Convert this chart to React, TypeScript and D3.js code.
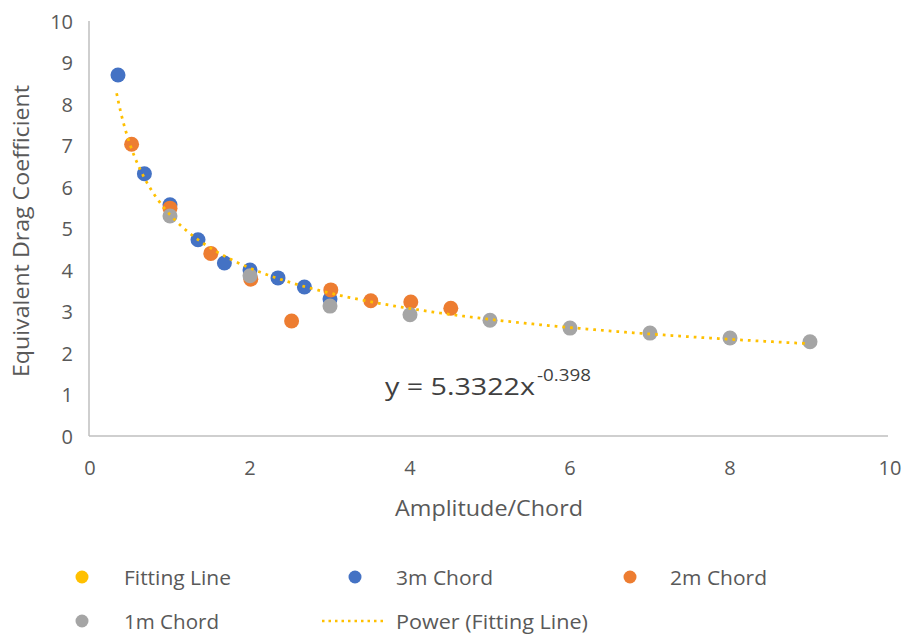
import React from "react";
import * as d3 from "d3";

const xTicks = [0, 2, 4, 6, 8, 10];
const yTicks = [0, 1, 2, 3, 4, 5, 6, 7, 8, 9, 10];

const chord3X = [0.35, 0.68, 1.0, 1.35, 1.68, 2.0, 2.35, 2.68, 3.0];
const chord3Y = [8.7, 6.32, 5.57, 4.73, 4.17, 4.0, 3.81, 3.59, 3.3];

const chord2X = [0.52, 1.0, 1.51, 2.01, 2.52, 3.01, 3.51, 4.01, 4.51];
const chord2Y = [7.03, 5.49, 4.4, 3.78, 2.77, 3.52, 3.26, 3.23, 3.08];

const chord1X = [1, 2, 3, 4, 5, 6, 7, 8, 9];
const chord1Y = [5.3, 3.86, 3.13, 2.92, 2.79, 2.6, 2.48, 2.36, 2.27];

const fitA = 5.3322;
const fitB = -0.398;
const fitRange = [0.333, 9];

const COLORS = {
  fit: "#FFC000",
  c3: "#4472C4",
  c2: "#ED7D31",
  c1: "#A5A5A5",
  text: "#595959",
  axis: "#BFBFBF",
};

const FONT = "'Open Sans', 'Noto Sans', sans-serif";

export default function App() {
  const W = 906;
  const H = 635;
  const left = 90;
  const right = 890;
  const top = 21;
  const bottom = 436;

  const x = d3.scaleLinear().domain([0, 10]).range([left, right]);
  const y = d3.scaleLinear().domain([0, 10]).range([bottom, top]);

  const fitPts = d3
    .range(fitRange[0], fitRange[1] + 0.0001, 0.02)
    .map((v) => [v, fitA * Math.pow(v, fitB)] as [number, number]);
  const fitPath = d3
    .line<[number, number]>()
    .x((d) => x(d[0]))
    .y((d) => y(d[1]))(fitPts);

  const r = 7.5;
  const series = [
    { xs: chord3X, ys: chord3Y, c: COLORS.c3 },
    { xs: chord2X, ys: chord2Y, c: COLORS.c2 },
    { xs: chord1X, ys: chord1Y, c: COLORS.c1 },
  ];

  const legendRows = [
    [
      { kind: "dot", c: COLORS.fit, label: "Fitting Line", mx: 82, tx: 124, w: 107 },
      { kind: "dot", c: COLORS.c3, label: "3m Chord", mx: 355, tx: 396, w: 97 },
      { kind: "dot", c: COLORS.c2, label: "2m Chord", mx: 630, tx: 670, w: 97 },
    ],
    [
      { kind: "dot", c: COLORS.c1, label: "1m Chord", mx: 82, tx: 124, w: 95 },
      { kind: "line", c: COLORS.fit, label: "Power (Fitting Line)", mx: 322, tx: 396, w: 192 },
    ],
  ];
  const rowY = [577, 621];

  return (
    <svg width={W} height={H} style={{ position: "absolute", left: 0, top: 0, background: "#fff" }}>
      <rect x={0} y={0} width={W} height={H} fill="#fff" />
      {/* axes */}
      <line x1={left - 1} x2={left - 1} y1={top} y2={bottom} stroke={COLORS.axis} strokeWidth={1.5} />
      <line x1={left - 1} x2={right - 2} y1={bottom} y2={bottom} stroke={COLORS.axis} strokeWidth={1.5} />
      {yTicks.map((t) => (
        <text
          key={"y" + t}
          x={left - 17}
          y={y(t)}
          textAnchor="end"
          dominantBaseline="central"
          fontFamily={FONT}
          fontSize={20}
          fill={COLORS.text}
        >
          {t}
        </text>
      ))}
      {xTicks.map((t) => (
        <text
          key={"x" + t}
          x={x(t)}
          y={467}
          textAnchor="middle"
          dominantBaseline="central"
          fontFamily={FONT}
          fontSize={20}
          fill={COLORS.text}
        >
          {t}
        </text>
      ))}
      <text
        transform={`translate(20,231) rotate(-90)`}
        textAnchor="middle"
        dominantBaseline="central"
        fontFamily={FONT}
        fontSize={21.5}
        textLength={292}
        lengthAdjust="spacingAndGlyphs"
        fill={COLORS.text}
      >
        Equivalent Drag Coefficient
      </text>
      <text
        x={489}
        y={507}
        textAnchor="middle"
        dominantBaseline="central"
        fontFamily={FONT}
        fontSize={21.5}
        textLength={188}
        lengthAdjust="spacingAndGlyphs"
        fill={COLORS.text}
      >
        Amplitude/Chord
      </text>
      {/* points */}
      {series.map((s, si) =>
        s.xs.map((xv, i) => (
          <circle key={si + "-" + i} cx={x(xv)} cy={y(s.ys[i])} r={r} fill={s.c} />
        ))
      )}
      {/* trendline */}
      <path
        d={fitPath || ""}
        fill="none"
        stroke={COLORS.fit}
        strokeWidth={2.75}
        strokeDasharray="2.75 5"
      />
      {/* equation */}
      <text x={385} y={395} fontFamily={FONT} fontSize={24.5} fill="#404040" textLength={150} lengthAdjust="spacingAndGlyphs">
        y = 5.3322x
      </text>
      <text x={537} y={381} fontFamily={FONT} fontSize={17} fill="#404040" textLength={54} lengthAdjust="spacingAndGlyphs">
        -0.398
      </text>
      {/* legend */}
      {legendRows.map((row, ri) =>
        row.map((it, k) => (
          <g key={ri + "-" + k}>
            {it.kind === "dot" ? (
              <circle cx={it.mx} cy={rowY[ri]} r={6.5} fill={it.c} />
            ) : (
              <line
                x1={it.mx}
                x2={it.mx + 64}
                y1={rowY[ri]}
                y2={rowY[ri]}
                stroke={it.c}
                strokeWidth={2.5}
                strokeDasharray="2.5 4"
              />
            )}
            <text
              x={it.tx}
              y={rowY[ri]}
              dominantBaseline="central"
              fontFamily={FONT}
              fontSize={20}
              textLength={it.w}
              lengthAdjust="spacingAndGlyphs"
              fill={COLORS.text}
            >
              {it.label}
            </text>
          </g>
        ))
      )}
    </svg>
  );
}
